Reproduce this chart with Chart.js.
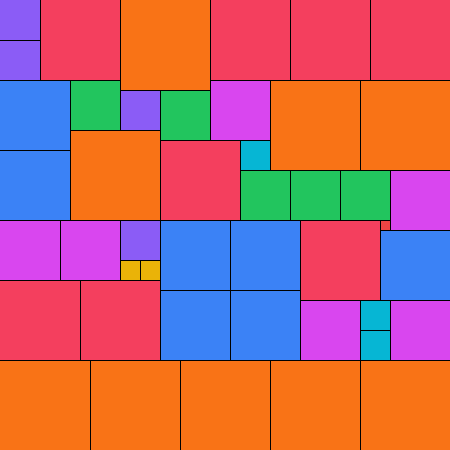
<!DOCTYPE html>
<html>
<head>
<meta charset="utf-8">
<title>Square packing treemap</title>
<script src="https://cdn.jsdelivr.net/npm/chart.js@4/dist/chart.umd.min.js"></script>
<style>
  html, body { margin: 0; padding: 0; background: #ffffff; }
  #wrap { width: 450px; height: 450px; }
</style>
</head>
<body>
<div id="wrap"><canvas id="chart" width="450" height="450"></canvas></div>
<script>
// Grid is 45 x 45 units; n squares of side n (n = 1..9).
const sides = [9, 8, 7, 6, 5, 4, 3, 2, 1];
const sideColors = ['#F97316', '#F43F5E', '#3B82F6', '#D946EF', '#22C55E', '#8B5CF6', '#06B6D4', '#EAB308', '#EF4444'];
const cols = [
  [0, 9, 18, 27, 36, 12, 27, 36, 7],
  [4, 21, 29, 37, 16, 30, 0, 8],
  [0, 0, 16, 23, 38, 16, 23],
  [21, 39, 0, 6, 30, 39],
  [7, 16, 24, 29, 34],
  [0, 0, 12, 12],
  [24, 36, 36],
  [12, 14],
  [38]
];
const rows = [
  [36, 36, 36, 36, 36, 0, 8, 8, 13],
  [0, 0, 0, 0, 14, 22, 28, 28],
  [8, 15, 22, 22, 23, 29, 29],
  [8, 17, 22, 22, 30, 30],
  [8, 9, 17, 17, 17],
  [0, 4, 9, 22],
  [14, 30, 33],
  [26, 26],
  [22]
];
const gridSize = 45;

class SquareController extends Chart.DatasetController {
  update(mode) {
    const meta = this._cachedMeta;
    this.updateElements(meta.data, 0, meta.data.length, mode);
  }
  updateElements(rects, start, count, mode) {
    const meta = this._cachedMeta;
    const xs = meta.xScale, ys = meta.yScale;
    const data = this.getDataset().data;
    for (let i = start; i < start + count; i++) {
      const d = data[i];
      const x0 = xs.getPixelForValue(d.x), x1 = xs.getPixelForValue(d.x + d.s);
      const y0 = ys.getPixelForValue(d.y), y1 = ys.getPixelForValue(d.y + d.s);
      this.updateElement(rects[i], i, {
        x: (x0 + x1) / 2,
        y: Math.min(y0, y1),
        base: Math.max(y0, y1),
        width: Math.abs(x1 - x0),
        height: Math.abs(y1 - y0),
        horizontal: false,
        inflateAmount: 0,
        borderSkipped: {},
        enableBorderRadius: false,
        options: this.resolveDataElementOptions(i, mode)
      }, mode);
    }
  }
}
SquareController.id = 'squares';
SquareController.defaults = { dataElementType: 'bar', datasetElementType: false };
SquareController.overrides = { scales: { x: { type: 'linear' }, y: { type: 'linear' } } };
Chart.register(SquareController);

const datasets = sides.map((s, g) => ({
  label: 'side ' + s,
  data: cols[g].map((c, i) => ({ x: c, y: rows[g][i], s: s })),
  backgroundColor: sideColors[g],
  borderColor: '#000000',
  borderRadius: 0,
  borderWidth: ctx => ({
    left: ctx.raw && ctx.raw.x > 0 ? 1 : 0,
    top: ctx.raw && ctx.raw.y > 0 ? 1 : 0,
    right: 0,
    bottom: 0
  })
}));

new Chart(document.getElementById('chart'), {
  type: 'squares',
  data: { datasets },
  options: {
    responsive: false,
    devicePixelRatio: 1,
    animation: false,
    events: [],
    layout: { padding: 0 },
    plugins: { legend: { display: false }, tooltip: { enabled: false }, title: { display: false } },
    scales: {
      x: { type: 'linear', min: 0, max: gridSize, display: false },
      y: { type: 'linear', min: 0, max: gridSize, reverse: true, display: false }
    }
  }
});
</script>
</body>
</html>
